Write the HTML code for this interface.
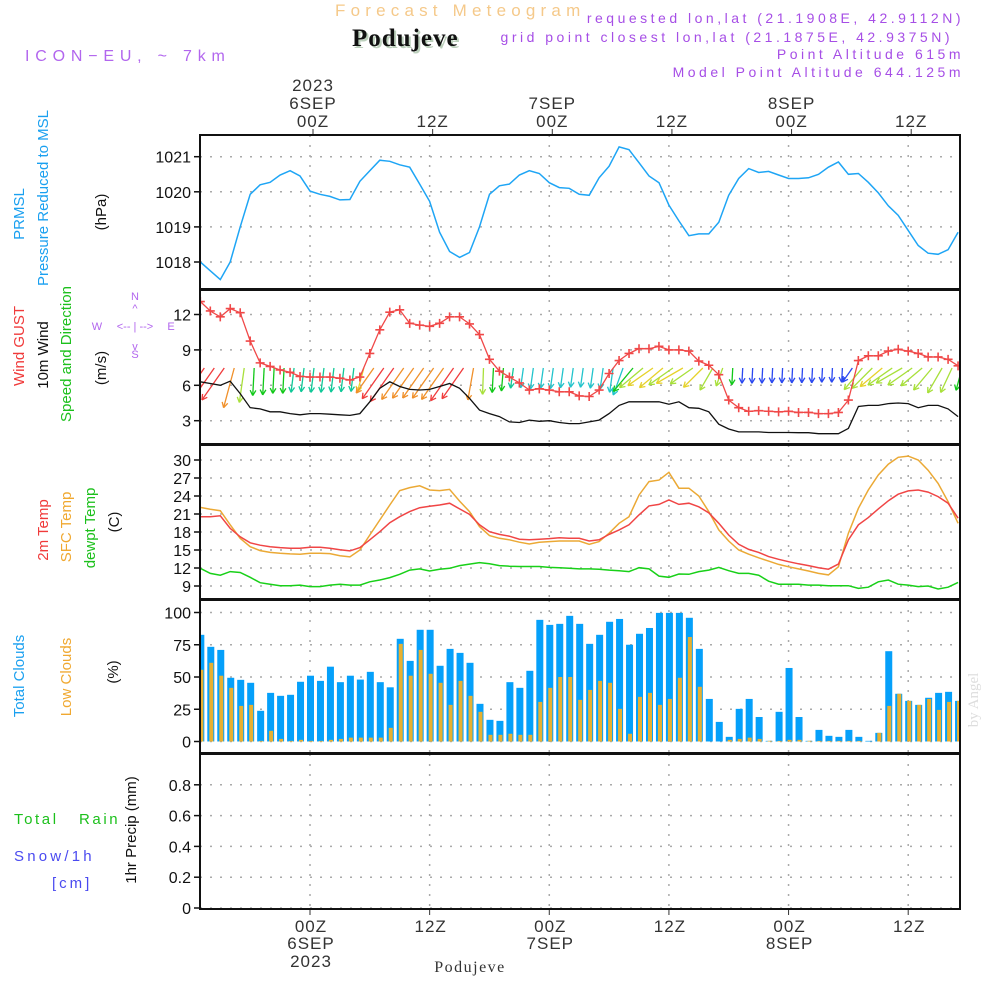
<!DOCTYPE html>
<html><head><meta charset="utf-8">
<style>
html,body{margin:0;padding:0;background:#fff;}
svg{display:block;}
text{font-family:"Liberation Sans",sans-serif;}
.tick{font-size:16px;fill:#111;}
.tl{font-size:17px;fill:#333;letter-spacing:1px;}
.lab{font-size:15px;}
.serif{font-family:"Liberation Serif",serif;}
</style></head>
<body>
<svg id="chart" width="1000" height="1000" viewBox="0 0 1000 1000" xmlns="http://www.w3.org/2000/svg">
<defs>
<clipPath id="c1"><rect x="200" y="135" width="760" height="154"/></clipPath>
<clipPath id="c2"><rect x="200" y="290" width="760" height="154"/></clipPath>
<clipPath id="c3"><rect x="200" y="445" width="760" height="154"/></clipPath>
<clipPath id="c4"><rect x="200" y="600" width="760" height="153"/></clipPath>
</defs>
<!-- header -->
<text x="335" y="16" font-size="17" fill="#f5c98a" letter-spacing="5.2">Forecast Meteogram</text>
<text x="354" y="48" class="serif" font-weight="bold" font-size="25" fill="#bcd0bc" letter-spacing="1">Podujeve</text>
<text x="352" y="46" class="serif" font-weight="bold" font-size="25" fill="#111" letter-spacing="1">Podujeve</text>
<text x="25" y="61" font-size="16" fill="#b266ee" letter-spacing="5.8">ICON−EU, ~ 7km</text>
<text x="964" y="23" text-anchor="end" font-size="14" fill="#a64ee6" letter-spacing="3.5">requested lon,lat (21.1908E, 42.9112N)</text>
<text x="953" y="42" text-anchor="end" font-size="14" fill="#a64ee6" letter-spacing="3.5">grid point closest lon,lat (21.1875E, 42.9375N)</text>
<text x="964" y="59" text-anchor="end" font-size="14" fill="#a64ee6" letter-spacing="3.5">Point Altitude 615m</text>
<text x="964" y="77" text-anchor="end" font-size="14" fill="#a64ee6" letter-spacing="3.5">Model Point Altitude 644.125m</text>
<text x="978" y="700" font-size="15" fill="#ddd" class="serif" transform="rotate(-90 978 700)" text-anchor="middle">by Angel</text>
<text x="470" y="972" text-anchor="middle" font-size="16" fill="#333" class="serif" letter-spacing="1.5">Podujeve</text>

<!-- left labels -->
<g>
<text class="lab" fill="#1aa0f0" transform="translate(24 214) rotate(-90)" text-anchor="middle">PRMSL</text>
<text class="lab" fill="#1aa0f0" transform="translate(48 198) rotate(-90)" text-anchor="middle">Pressure Reduced to MSL</text>
<text class="lab" fill="#111" transform="translate(106 212) rotate(-90)" text-anchor="middle">(hPa)</text>
</g>
<g>
<text class="lab" fill="#f03a3a" transform="translate(24 346) rotate(-90)" text-anchor="middle">Wind GUST</text>
<text class="lab" fill="#111" transform="translate(48 355) rotate(-90)" text-anchor="middle">10m Wind</text>
<text class="lab" fill="#1cc01c" transform="translate(71 354) rotate(-90)" text-anchor="middle">Speed and Direction</text>
<text class="lab" fill="#111" transform="translate(106 368) rotate(-90)" text-anchor="middle">(m/s)</text>
<g fill="#b266ee" font-size="11">
<text x="135" y="300" text-anchor="middle">N</text><text x="97" y="330" text-anchor="middle">W</text>
<text x="171" y="330" text-anchor="middle">E</text><text x="135" y="358" text-anchor="middle">S</text>
<text x="135" y="330" text-anchor="middle">&lt;-- | --&gt;</text>
<text x="135" y="312" text-anchor="middle">^</text><text x="135" y="350" text-anchor="middle">v</text>
</g>
</g>
<g>
<text class="lab" fill="#f03a3a" transform="translate(48 530) rotate(-90)" text-anchor="middle">2m Temp</text>
<text class="lab" fill="#f0a830" transform="translate(71 527) rotate(-90)" text-anchor="middle">SFC Temp</text>
<text class="lab" fill="#1cc01c" transform="translate(95 528) rotate(-90)" text-anchor="middle">dewpt Temp</text>
<text class="lab" fill="#111" transform="translate(119 522) rotate(-90)" text-anchor="middle">(C)</text>
</g>
<g>
<text class="lab" fill="#1aa0f0" transform="translate(24 676) rotate(-90)" text-anchor="middle">Total Clouds</text>
<text class="lab" fill="#f0a830" transform="translate(71 677) rotate(-90)" text-anchor="middle">Low Clouds</text>
<text class="lab" fill="#111" transform="translate(118 672) rotate(-90)" text-anchor="middle">(%)</text>
</g>
<g>
<text x="14" y="824" font-size="15" fill="#1cc01c" letter-spacing="2.6" xml:space="preserve">Total   Rain</text>
<text x="14" y="861" font-size="15" fill="#4a4af0" letter-spacing="3.2">Snow/1h</text>
<text x="52" y="888" font-size="15" fill="#4a4af0" letter-spacing="3">[cm]</text>
<text class="lab" fill="#111" transform="translate(136 830) rotate(-90)" text-anchor="middle">1hr Precip (mm)</text>
</g>
<g id="plot"></g>
</svg>
<script>
// ---- data (hourly, hour -11 .. 65 relative to 00Z 6 SEP 2023) ----
const hourStart = -11;
const pressure = [1018.0,1017.75,1017.5,1018.0,1019.0,1019.93,1020.2,1020.27,1020.48,1020.6,1020.45,1020.02,1019.93,1019.87,1019.77,1019.78,1020.3,1020.6,1020.9,1020.87,1020.77,1020.7,1020.22,1019.73,1018.85,1018.3,1018.13,1018.27,1019.0,1019.93,1020.17,1020.22,1020.48,1020.6,1020.52,1020.26,1020.12,1020.1,1019.93,1019.9,1020.4,1020.73,1021.28,1021.2,1020.83,1020.45,1020.26,1019.62,1019.17,1018.75,1018.8,1018.8,1019.13,1019.9,1020.38,1020.66,1020.55,1020.58,1020.48,1020.38,1020.38,1020.4,1020.5,1020.7,1020.85,1020.5,1020.52,1020.27,1019.97,1019.6,1019.33,1018.9,1018.47,1018.25,1018.22,1018.35,1018.85];
const gust = [13.1,12.3,11.8,12.5,12.15,9.75,7.9,7.6,7.3,7.1,6.75,6.7,6.7,6.7,6.6,6.45,6.7,8.7,10.7,12.2,12.4,11.25,11.1,11.0,11.25,11.8,11.8,11.2,10.3,8.2,7.2,6.7,6.2,5.6,5.7,5.6,5.45,5.45,5.1,5.05,5.6,7.0,8.1,8.7,9.1,9.1,9.3,9.0,9.0,8.9,8.05,7.7,6.9,4.75,4.1,3.8,3.85,3.8,3.75,3.8,3.7,3.7,3.6,3.6,3.7,4.75,8.1,8.5,8.5,8.9,9.05,8.9,8.7,8.4,8.4,8.2,7.65];
const windSpeed = [6.3,6.15,6.0,6.35,5.3,4.1,4.0,3.75,3.75,3.6,3.5,3.6,3.6,3.55,3.5,3.45,3.6,4.6,5.75,6.3,5.9,5.65,5.6,5.65,5.9,6.15,5.75,4.9,3.9,3.6,3.35,2.9,2.85,3.05,2.95,3.0,2.85,2.75,2.75,2.9,3.05,3.6,4.3,4.6,4.6,4.6,4.6,4.4,4.6,4.1,4.05,3.75,2.7,2.3,2.05,2.05,2.05,2.0,2.0,2.0,1.98,1.98,1.9,1.9,1.9,2.35,4.2,4.3,4.3,4.45,4.5,4.45,4.1,4.3,4.3,4.0,3.35];
const windDir = [35,35,35,15,8,3,3,3,3,7,7,7,7,7,7,7,15,35,35,35,35,35,35,35,35,35,35,10,2,3,5,8,8,8,8,8,8,8,8,8,8,8,20,40,50,55,50,55,60,55,45,30,20,3,3,3,3,3,3,3,3,3,3,3,3,35,40,45,50,55,60,55,50,40,30,25,15];
const windCol = "rrrolggggtttttttyorrooooorrolggtcccccccccccgiyyiyiyiigbbbbbbbbbbbbiiyiiiiiiigt";
const temp2m = [20.55,20.55,20.7,18.6,17.2,16.2,15.8,15.55,15.4,15.3,15.3,15.45,15.45,15.3,15.05,14.85,15.4,16.7,18.05,19.55,20.55,21.4,22.05,22.3,22.5,22.8,21.85,20.95,19.2,18.05,17.6,17.3,16.8,16.7,16.8,16.9,17.05,16.95,16.95,16.5,16.7,17.6,18.35,19.2,20.85,22.35,22.6,23.35,22.6,22.8,22.2,21.2,19.45,17.5,15.95,15.1,14.6,13.9,13.45,13.05,12.7,12.4,12.05,11.8,12.65,16.7,19.2,20.4,21.85,23.2,24.3,24.85,25.0,24.65,23.9,22.8,20.3];
const tempSfc = [22.1,21.8,21.55,19.2,16.95,15.55,14.9,14.6,14.45,14.35,14.3,14.45,14.45,14.4,14.05,13.85,15.0,17.5,20.0,22.5,24.9,25.4,25.7,25.0,24.9,25.1,23.15,21.4,18.9,17.4,16.95,16.7,16.3,16.0,16.3,16.4,16.5,16.5,16.5,15.95,16.4,17.8,19.45,20.55,24.15,26.4,26.65,27.95,25.3,25.3,24.0,21.4,18.35,16.5,15.0,14.3,13.7,13.15,12.6,12.2,11.85,11.5,11.1,10.85,12.2,17.8,21.95,25.0,27.5,29.3,30.45,30.65,30.0,28.3,26.1,23.05,19.45];
const dewpt = [11.95,11.1,10.8,11.4,11.25,10.45,9.55,9.3,9.05,9.05,9.15,8.9,8.9,9.15,9.3,9.15,9.15,9.7,10.0,10.4,10.95,11.65,11.85,11.5,11.8,11.95,12.4,12.65,12.9,12.7,12.4,12.3,12.25,12.25,12.25,12.1,12.05,11.95,11.85,11.85,11.8,11.65,11.55,11.4,12.05,11.85,10.65,10.45,11.0,10.95,11.4,11.65,12.1,11.55,11.1,11.1,10.8,9.8,9.3,9.3,9.3,9.15,9.15,9.05,9.05,9.05,8.6,8.8,9.7,10.0,9.3,9.15,8.9,9.0,8.5,8.8,9.6];
const totalClouds = [82.7,73.4,71,49.4,47.8,45.5,23.8,37.7,35.4,36.2,46.3,51,47,58,46,51,48,54,46,42,79.6,62.5,86.6,86.6,58.7,71.8,68.7,61,29.2,16.8,16,46,41.6,54.8,94.3,90.4,91.2,97.4,91.2,75.7,82.7,92.8,95,75,83.5,88,99.7,99.7,99.7,95.9,71.8,33,15.2,3.6,25.3,33,19,0.5,23,57,19,0.5,9,4.4,3.6,9,3.6,0.5,6.7,70,37,31.5,28.4,33.9,37.7,38.5,31.5];
const lowClouds = [55.6,61,51,41.6,27.6,28.4,0.5,8.3,2,0.5,1.3,0.5,0.5,1.3,2,3,3,3,3,10.6,75.7,51,71,52.5,45.5,28.4,47,35.4,23,5.2,5.2,6,5.2,5.2,30.7,41.6,50,50,32.3,40,47,45.5,25.3,6,34.6,37.7,28.4,33,49.4,81,42.4,0,0,1.3,2,3,2,0.5,0.5,1.3,1.3,0.5,0.5,0.5,0.5,0.5,0.5,0,6.7,27.6,37,31.5,28.4,33,24.5,30.7,31.5];
const pTicks = [1018,1019,1020,1021];
const wTicks = [3,6,9,12];
const tTicks = [9,12,15,18,21,24,27,30];
const cTicks = [0,25,50,75,100];
const prTicks = [0,0.2,0.4,0.6,0.8];
const timeTicks = [0,12,24,36,48,60];
const timeLabels = ["00Z","12Z","00Z","12Z","00Z","12Z"];
const dayLabels = ["6SEP","","7SEP","","8SEP",""];

const NS="http://www.w3.org/2000/svg";
const plot=document.getElementById('plot');
function el(tag,attrs,parent){const e=document.createElementNS(NS,tag);for(const k in attrs)e.setAttribute(k,attrs[k]);(parent||plot).appendChild(e);return e;}
const X=h=>310+h*9.97;
const hours=pressure.map((_,i)=>hourStart+i);
const yP=v=>262-(v-1018)*35.1;
const yW=v=>420.7-(v-3)*11.8;
const yT=v=>460-(v-30)*6;
const yC=v=>741.5-v*1.29;
const yR=v=>908-v*154;
const panels=[[135,289],[290,444],[445,599],[600,753],[754,909]];

function hgrid(ticks,yf,name){ticks.forEach(t=>{
  const l=el('line',{x1:200,x2:960,y1:yf(t),y2:yf(t),stroke:'#aaa','stroke-width':1.5,'stroke-dasharray':'2,8'});
  
  
  const tk=el('line',{x1:194,x2:200,y1:yf(t),y2:yf(t),stroke:'#111','stroke-width':1.5});
  
  
  const tx=el('text',{x:191,y:yf(t)+6,'text-anchor':'end',class:'tick'});
  tx.textContent=t;
  
  
});}
hgrid(pTicks,yP,'pressure');hgrid(wTicks,yW,'wind');hgrid(tTicks,yT,'temp');hgrid(cTicks,yC,'cloud');hgrid(prTicks,yR,'precip');
timeTicks.forEach((h,i)=>{
  panels.forEach(p=>{const l=el('line',{x1:X(h),x2:X(h),y1:p[0],y2:p[1],stroke:'#aaa','stroke-width':1.5,'stroke-dasharray':'2,8'});
  
  });
  const a=el('line',{x1:X(h)+3,x2:X(h)+3,y1:129,y2:135,stroke:'#333'});
  
  
  const t=el('text',{x:X(h)+3,y:127,'text-anchor':'middle',class:'tl'});t.textContent=timeLabels[i];
  
  
  if(dayLabels[i]){const d=el('text',{x:X(h)+3,y:109,'text-anchor':'middle',class:'tl'});d.textContent=dayLabels[i];
  
  }
  const b=el('line',{x1:X(h),x2:X(h),y1:909,y2:915,stroke:'#333'});
  
  
  const bt=el('text',{x:X(h)+1,y:932,'text-anchor':'middle',class:'tl'});bt.textContent=timeLabels[i];
  
  
  if(dayLabels[i]){const d=el('text',{x:X(h)+1,y:949,'text-anchor':'middle',class:'tl'});d.textContent=dayLabels[i];
  
  }
});
const y1=el('text',{x:X(0)+3,y:91,'text-anchor':'middle',class:'tl'});y1.textContent='2023';


const y2=el('text',{x:X(0)+1,y:967,'text-anchor':'middle',class:'tl'});y2.textContent='2023';



function line(vals,yf,color,clip,name,w){
  const pts=vals.map((v,i)=>X(hours[i]).toFixed(1)+','+yf(v).toFixed(1)).join(' ');
  const p=el('polyline',{points:pts,fill:'none',stroke:color,'stroke-width':w||1.5,'clip-path':'url(#'+clip+')'});
  
  
  return p;
}
line(pressure,yP,'#1ea5f5','c1','pressure-line');
totalClouds.forEach((v,i)=>{
  const x=X(hours[i]);
  const b=el('rect',{x:x-3,y:yC(v),width:7,height:741.5-yC(v),fill:'#05a0fa','clip-path':'url(#c4)'});
  
  
});
lowClouds.forEach((v,i)=>{
  const x=X(hours[i]);
  const b=el('rect',{x:x-1,y:yC(v),width:4,height:741.5-yC(v),fill:'#e8b030','clip-path':'url(#c4)'});
  
  
});
const cmap={r:'#f03c3c',o:'#f0902a',y:'#e6d22a',i:'#a8e03a',l:'#a8e03a',g:'#10c818',t:'#10c898',c:'#22c4cc',b:'#2a48f0'};
windDir.forEach((d,i)=>{
  const x0=X(hours[i])+4,y0=368,L=3+windSpeed[i]*6;
  const r=d*Math.PI/180;
  const x1=x0-L*Math.sin(r),y1=y0+L*Math.cos(r);
  const c=cmap[windCol[i]]||'#10c818';
  const g=el('g',{stroke:c,'stroke-width':1.3,fill:'none','clip-path':'url(#c2)'});
  
  
  el('line',{x1:x0,y1:y0,x2:x1,y2:y1},g);
  const ang=Math.atan2(y1-y0,x1-x0);
  [0.5,-0.5].forEach(s=>{el('line',{x1:x1,y1:y1,x2:x1-6*Math.cos(ang+s),y2:y1-6*Math.sin(ang+s)},g);});
});
line(windSpeed,yW,'#111','c2','wind-speed-line',1.3);
line(gust,yW,'#f04848','c2','gust-line',1.3);
gust.forEach((v,i)=>{
  const x=X(hours[i]),y=yW(v);
  const m=el('path',{d:`M${x-4.5},${y}H${x+4.5}M${x},${y-4.5}V${y+4.5}`,stroke:'#f04848','stroke-width':1.6,'clip-path':'url(#c2)'});
  
  
});
line(dewpt,yT,'#18d018','c3','dewpoint-line');
line(tempSfc,yT,'#eba935','c3','sfc-temp-line');
line(temp2m,yT,'#f04545','c3','temp-2m-line');
panels.forEach((p,i)=>{
  const r=el('rect',{x:200,y:p[0],width:760,height:p[1]-p[0],fill:'none',stroke:'#111','stroke-width':2});
  
  
});
const base=el('line',{x1:200,x2:960,y1:909,y2:909,stroke:'#111','stroke-width':2,'stroke-dasharray':'6,2'});


</script>
</body></html>
